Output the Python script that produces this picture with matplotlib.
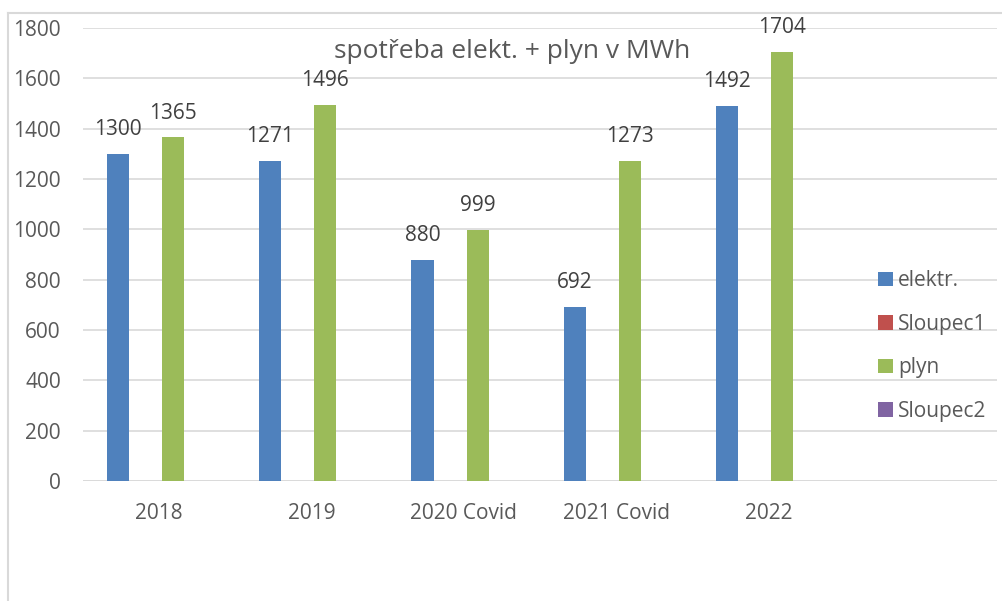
import matplotlib
matplotlib.use("Agg")
import matplotlib.pyplot as plt
import numpy as np
from matplotlib.patches import Patch
from matplotlib.lines import Line2D

categories = ["2018", "2019", "2020 Covid", "2021 Covid", "2022", ""]
elektr = [1300, 1271, 880, 692, 1492, np.nan]
sloupec1 = [np.nan] * 6
plyn = [1365, 1496, 999, 1273, 1704, np.nan]
sloupec2 = [np.nan] * 6
series_names = ["elektr.", "Sloupec1", "plyn", "Sloupec2"]
colors = ["#4F81BD", "#C0504D", "#9BBB59", "#8064A2"]
title = "spotřeba elekt. + plyn v MWh"

plt.rcParams['font.family'] = ['Open Sans', 'DejaVu Sans']

fig = plt.figure(figsize=(10.03, 6.01), dpi=100)
W, H = 1003, 601
ax = fig.add_axes([83 / W, (H - 481) / H, (997 - 83) / W, (481 - 28) / H])

x = np.arange(len(categories))
slot = 27.5 / 152
bw = 22 / 152
data = [elektr, sloupec1, plyn, sloupec2]
for i, (vals, c) in enumerate(zip(data, colors)):
    off = (i - 1.5) * slot
    v = np.array(vals, dtype=float)
    ax.bar(x + off, np.nan_to_num(v), width=bw, color=c, zorder=3)
    for xi, val in zip(x + off, v):
        if not np.isnan(val):
            ax.annotate(f"{int(val)}", (xi, val), xytext=(0, 10), textcoords="offset points",
                        ha="center", va="bottom", fontsize=15, color="#404040")

ax.set_xlim(-0.5, len(categories) - 0.5)
ax.set_ylim(0, 1800)
ax.set_yticks(np.arange(0, 1801, 200))
ax.set_xticks(x)
ax.set_xticklabels(categories)
ax.tick_params(axis='both', length=0, labelsize=15, colors="#595959")
ax.tick_params(axis='y', pad=16)
ax.tick_params(axis='x', pad=16)
ax.grid(axis='y', color="#D9D9D9", linewidth=1.2, zorder=0)
for s in ax.spines.values():
    s.set_visible(False)
ax.axhline(0, color="#D9D9D9", linewidth=1.2, zorder=2)

fig.text(512 / W, 1 - 52 / H, title, ha="center", va="center", fontsize=19, color="#595959")

handles = [Patch(facecolor=c, edgecolor='none') for c in colors]
leg = fig.legend(handles, series_names, loc="upper left", bbox_to_anchor=(868 / W, 1 - 260 / H),
                 frameon=False, fontsize=15, handlelength=0.68, handleheight=0.68,
                 handletextpad=0.25, labelspacing=1.08, borderpad=0)
for t in leg.get_texts():
    t.set_color("#595959")

# outer chart frame
fig.add_artist(Line2D([8 / W, 8 / W], [0, 1 - 13 / H], transform=fig.transFigure, color="#D9D9D9", linewidth=1.5))
fig.add_artist(Line2D([8 / W, 1], [1 - 13 / H, 1 - 13 / H], transform=fig.transFigure, color="#D9D9D9", linewidth=1.5))

fig.savefig("out.png", dpi=100)
